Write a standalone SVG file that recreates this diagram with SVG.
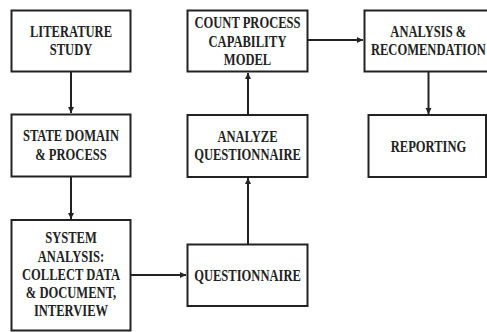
<svg xmlns="http://www.w3.org/2000/svg" width="487" height="332" viewBox="0 0 487 332">
<style>
.box{fill:#fff;stroke:#222;stroke-width:2}
.lbl{font-family:"Liberation Serif","Times New Roman",serif;font-weight:bold;font-size:16px;fill:#222;text-anchor:middle}
.con{fill:none;stroke:#222;stroke-width:2}
</style>
<defs>
<marker id="ah" markerUnits="userSpaceOnUse" markerWidth="7" markerHeight="7" refX="6" refY="3.5" orient="auto">
<path d="M0,0.5 L6,3.5 L0,6.5 z" fill="#222"/>
</marker>
</defs>
<rect width="487" height="332" fill="#fff"/>
<g id="connectors">
<path class="con" d="M71,72 L71,113" marker-end="url(#ah)"/>
<path class="con" d="M71,177 L71,219" marker-end="url(#ah)"/>
<path class="con" d="M131,275 L186,275" marker-end="url(#ah)"/>
<path class="con" d="M248,244 L248,178" marker-end="url(#ah)"/>
<path class="con" d="M248,115 L248,73" marker-end="url(#ah)"/>
<path class="con" d="M308,40 L363,40" marker-end="url(#ah)"/>
<path class="con" d="M428.5,72 L428.5,114" marker-end="url(#ah)"/>
</g>
<g id="literature">
<rect class="box" x="11.5" y="10.5" width="119" height="61"/>
<text class="lbl" transform="translate(71 0) scale(0.785 1)"><tspan x="0" y="37.3">LITERATURE</tspan><tspan x="0" y="55.3">STUDY</tspan></text>
</g>
<g id="state">
<rect class="box" x="11.5" y="114.5" width="119" height="62"/>
<text class="lbl" transform="translate(71 0) scale(0.785 1)"><tspan x="0" y="141.5">STATE DOMAIN</tspan><tspan x="0" y="159.8">&amp; PROCESS</tspan></text>
</g>
<g id="system">
<rect class="box" x="11.5" y="220" width="119" height="110.5"/>
<text class="lbl" transform="translate(71 0) scale(0.785 1)"><tspan x="0" y="243.3">SYSTEM</tspan><tspan x="0" y="261.6">ANALYSIS:</tspan><tspan x="0" y="279.9">COLLECT DATA</tspan><tspan x="0" y="298.2">&amp; DOCUMENT,</tspan><tspan x="0" y="316.5">INTERVIEW</tspan></text>
</g>
<g id="questionnaire">
<rect class="box" x="187.5" y="244.5" width="120" height="61.5"/>
<text class="lbl" transform="translate(247.5 0) scale(0.785 1)"><tspan x="0" y="280.7">QUESTIONNAIRE</tspan></text>
</g>
<g id="analyze">
<rect class="box" x="187.5" y="115" width="120" height="62"/>
<text class="lbl" transform="translate(247.5 0) scale(0.785 1)"><tspan x="0" y="141.6">ANALYZE</tspan><tspan x="0" y="159.9">QUESTIONNAIRE</tspan></text>
</g>
<g id="count">
<rect class="box" x="187.5" y="10.5" width="120" height="61"/>
<text class="lbl" transform="translate(247.5 0) scale(0.785 1)"><tspan x="0" y="28.3">COUNT PROCESS</tspan><tspan x="0" y="46.6">CAPABILITY</tspan><tspan x="0" y="64.9">MODEL</tspan></text>
</g>
<g id="analysis">
<rect class="box" x="364.5" y="10.5" width="130" height="61"/>
<text class="lbl" transform="translate(428.3 0) scale(0.785 1)"><tspan x="0" y="36.8">ANALYSIS &amp;</tspan><tspan x="0" y="55.1">RECOMENDATION</tspan></text>
</g>
<g id="reporting">
<rect class="box" x="368.5" y="115" width="117.5" height="62"/>
<text class="lbl" transform="translate(428.5 0) scale(0.785 1)"><tspan x="0" y="151.6">REPORTING</tspan></text>
</g>
</svg>
